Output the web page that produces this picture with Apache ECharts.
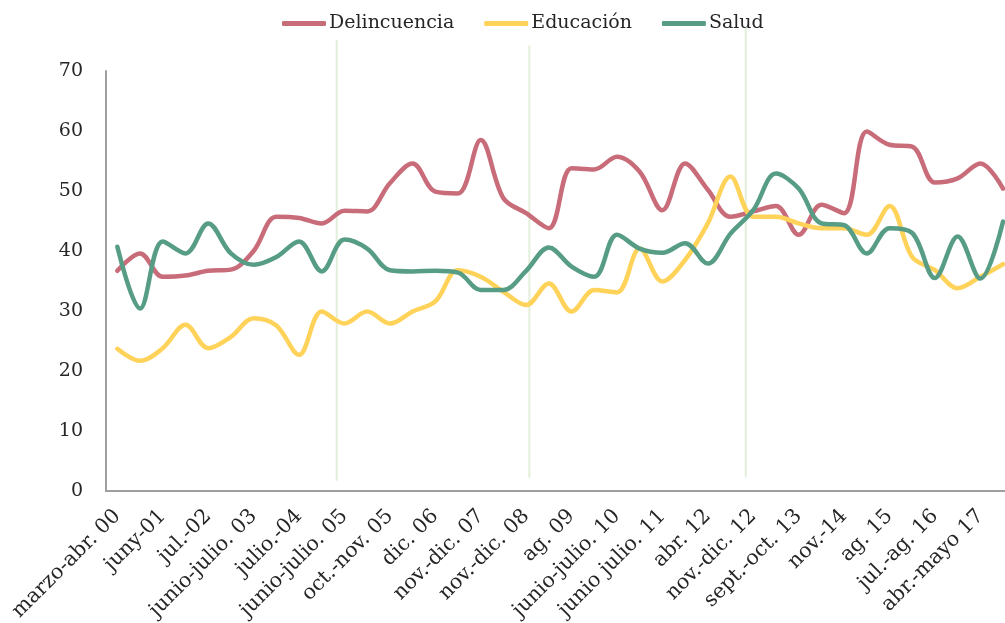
<!DOCTYPE html>
<html>
<head>
<meta charset="utf-8">
<script src="https://cdn.jsdelivr.net/npm/echarts@6/dist/echarts.min.js"></script>
<style>
  html, body { margin: 0; padding: 0; background: #ffffff; }
  #chart { width: 1005px; height: 623px; }
</style>
</head>
<body>
<div id="chart"></div>
<script>
// Survey periods: every other period carries a label on the axis
const tickLabels = [
  'marzo-abr. 00', 'juny-01', 'jul.-02', 'junio-julio. 03', 'julio.-04',
  'junio-julio. 05', 'oct.-nov. 05', 'dic. 06', 'nov.-dic. 07', 'nov.-dic. 08',
  'ag. 09', 'junio-julio. 10', 'junio julio. 11', 'abr. 12', 'nov.-dic. 12',
  'sept.-oct. 13', 'nov.-14', 'ag. 15', 'jul.-ag. 16', 'abr.-mayo 17'
];

const delincuencia = [
  36.7, 39.6, 35.7, 35.9, 36.7, 36.9, 40.0, 45.7, 45.5, 44.6,
  46.7, 46.6, 51.3, 54.6, 49.9, 49.6, 58.5, 48.8, 46.3, 43.8,
  53.8, 53.6, 55.7, 53.2, 46.8, 54.6, 50.2, 45.7, 46.6, 47.5,
  42.7, 47.7, 46.3, 59.9, 57.7, 57.4, 51.4, 52.1, 54.6, 50.4
];
const educacion = [
  23.7, 21.7, 23.8, 27.7, 23.8, 25.7, 28.8, 27.6, 22.7, 29.9,
  27.9, 29.9, 27.9, 29.9, 31.6, 36.8, 35.7, 33.2, 31.0, 34.6,
  29.9, 33.5, 33.1, 40.4, 34.9, 38.5, 44.6, 52.4, 45.7, 45.7,
  44.6, 43.8, 43.8, 42.7, 47.5, 39.0, 36.8, 33.8, 35.7, 37.8
];
const salud = [
  40.7, 30.4, 41.6, 39.6, 44.6, 39.6, 37.7, 39.0, 41.6, 36.6,
  41.9, 40.4, 36.8, 36.6, 36.7, 36.4, 33.5, 33.5, 36.7, 40.6,
  37.4, 35.7, 42.7, 40.4, 39.7, 41.3, 37.9, 42.9, 46.8, 52.9,
  50.4, 44.6, 44.3, 39.6, 43.8, 43.0, 35.5, 42.4, 35.4, 44.9
];

// Thin vertical reference lines: position on the period scale, top and bottom value
const refLinePos = [9.66, 18.14, 27.67];
const refLineTop = [75.2, 74.2, 77.2];
const refLineBottom = [1.7, 2.2, 2.3];

const yTicks = { min: 0, max: 70, interval: 10 };

const categories = [];
for (let i = 0; i < delincuencia.length; i++) {
  categories.push(i % 2 === 0 ? tickLabels[i / 2] : '');
}

const FONT = 'DejaVu Serif';
const TEXT = '#262626';

const chart = echarts.init(document.getElementById('chart'), null, { renderer: 'canvas' });

const lineSeries = (name, data, color) => ({
  name,
  type: 'line',
  data,
  smooth: 0.35,
  showSymbol: false,
  symbol: 'none',
  lineStyle: { color, width: 4.5, cap: 'round', join: 'round' },
  itemStyle: { color },
  z: 3
});

chart.setOption({
  animation: false,
  backgroundColor: '#ffffff',
  textStyle: { fontFamily: FONT, color: TEXT },
  legend: {
    data: ['Delincuencia', 'Educación', 'Salud'],
    left: 282,
    top: 14,
    padding: 0,
    icon: 'roundRect',
    itemWidth: 44,
    itemHeight: 5,
    itemGap: 30,
    textStyle: { fontFamily: FONT, fontSize: 19, color: TEXT, padding: [0, 0, 0, -2] }
  },
  // the plot runs a little past the right edge of the canvas
  grid: {
    left: 106, top: 71, bottom: 132, width: 908.4,
    containLabel: false,
    outerBoundsMode: 'none'
  },
  xAxis: [
    {
      type: 'category',
      data: categories,
      boundaryGap: true,
      axisLine: { lineStyle: { color: '#9e9e9e', width: 2 } },
      axisTick: { show: false },
      splitLine: { show: false },
      axisLabel: {
        interval: 0,
        rotate: 45,
        margin: 22,
        fontFamily: FONT,
        fontSize: 20.5,
        color: TEXT
      }
    },
    {
      type: 'value',
      min: -0.5,
      max: delincuencia.length - 0.5,
      show: false
    }
  ],
  yAxis: {
    type: 'value',
    min: yTicks.min,
    max: yTicks.max,
    interval: yTicks.interval,
    axisLine: { show: true, onZero: false, lineStyle: { color: '#9e9e9e', width: 2 } },
    axisTick: { show: false },
    splitLine: { show: false },
    axisLabel: { margin: 23, fontFamily: FONT, fontSize: 19, color: TEXT }
  },
  series: [
    {
      name: 'ref',
      type: 'custom',
      xAxisIndex: 1,
      clip: false,
      silent: true,
      z: 1,
      data: refLinePos.map((p, i) => [p, refLineTop[i], refLineBottom[i]]),
      renderItem: (params, api) => {
        const top = api.coord([api.value(0), api.value(1)]);
        const bottom = api.coord([api.value(0), api.value(2)]);
        return {
          type: 'line',
          shape: { x1: top[0], y1: top[1], x2: bottom[0], y2: bottom[1] },
          style: { stroke: '#e2efd9', lineWidth: 2 }
        };
      }
    },
    lineSeries('Delincuencia', delincuencia, '#c96c7a'),
    lineSeries('Educación', educacion, '#ffd25a'),
    lineSeries('Salud', salud, '#579d85')
  ]
});
</script>
</body>
</html>
